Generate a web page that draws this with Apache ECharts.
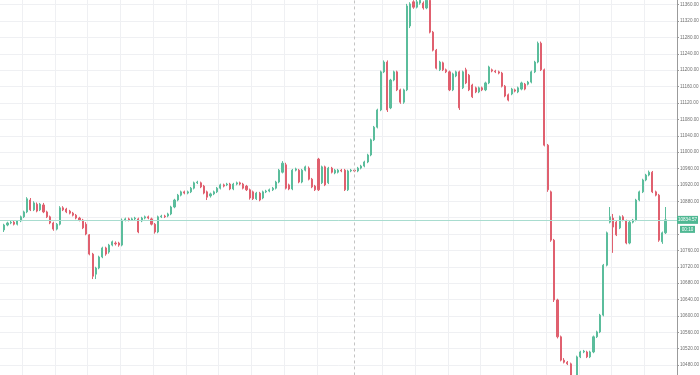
<!DOCTYPE html>
<html><head><meta charset="utf-8">
<script src="https://cdn.jsdelivr.net/npm/echarts@6/dist/echarts.min.js"></script>
<style>html,body{margin:0;padding:0;background:#fff}#c{width:700px;height:375px}</style>
</head><body><div id="c"></div>
<script>
const opens = [10810,10822,10827,10829,10824,10832,10842,10854,10883,10859,10873,10859,10871,10854,10842,10827,10812,10824,10864,10861,10856,10851,10846,10839,10834,10824,10798,10751,10702,10717,10744,10766,10756,10773,10778,10778,10773,10834,10837,10834,10837,10837,10832,10839,10842,10837,10824,10805,10842,10844,10844,10849,10866,10883,10895,10903,10900,10903,10912,10925,10925,10917,10903,10893,10898,10903,10912,10920,10920,10922,10910,10922,10925,10922,10917,10908,10903,10886,10900,10888,10903,10905,10908,10912,10927,10951,10969,10920,10910,10956,10956,10927,10956,10961,10934,10917,10983,10925,10964,10925,10961,10949,10951,10956,10956,10908,10954,10956,10954,10961,10966,10976,10993,11030,11061,11103,11196,11220,11108,11176,11196,11152,11122,11152,11308,11367,11354,11364,11364,11352,11371,11293,11249,11201,11218,11201,11196,11152,11186,11196,11157,11201,11188,11164,11157,11147,11157,11152,11169,11201,11198,11196,11193,11161,11140,11142,11152,11147,11154,11166,11166,11171,11196,11220,11266,11201,11017,10903,10785,10639,10549,10492,10487,10483,10448,10444,10500,10512,10512,10500,10512,10549,10561,10602,10724,10829,10839,10829,10815,10842,10832,10778,10829,10834,10883,10903,10932,10944,10951,10903,10895,10781,10803];
const closes = [10822,10827,10829,10824,10832,10842,10854,10886,10859,10876,10856,10873,10854,10842,10827,10812,10824,10864,10859,10854,10851,10846,10839,10834,10815,10800,10751,10697,10717,10744,10766,10751,10773,10781,10776,10773,10834,10837,10834,10837,10839,10805,10839,10842,10839,10824,10805,10842,10844,10842,10849,10866,10883,10895,10903,10900,10903,10912,10925,10927,10915,10900,10890,10898,10903,10912,10920,10917,10922,10910,10922,10925,10922,10912,10908,10888,10886,10900,10883,10903,10905,10908,10912,10927,10956,10973,10912,10910,10956,10959,10927,10956,10964,10934,10915,10908,10908,10964,10920,10961,10951,10956,10956,10954,10908,10954,10956,10954,10961,10966,10976,10993,11030,11061,11103,11196,11220,11103,11176,11196,11152,11122,11152,11357,11362,11354,11367,11371,11352,11371,11293,11249,11205,11220,11201,11196,11152,11191,11196,11108,11196,11169,11152,11135,11147,11157,11152,11169,11208,11198,11196,11193,11161,11137,11127,11154,11149,11157,11169,11154,11171,11196,11220,11266,11201,11017,10908,10785,10639,10549,10492,10487,10483,10448,10431,10500,10512,10514,10500,10512,10549,10561,10602,10724,10803,10842,10817,10798,10842,10834,10778,10829,10834,10883,10903,10932,10944,10951,10903,10895,10785,10803,10834.57];
const lows = [10805,10819,10824,10821,10821,10829,10839,10851,10856,10856,10853,10856,10851,10839,10824,10808,10809,10821,10856,10851,10848,10843,10836,10831,10812,10797,10748,10690,10690,10714,10741,10747,10752,10770,10772,10769,10770,10831,10831,10832,10834,10802,10829,10836,10836,10821,10801,10802,10839,10839,10841,10846,10863,10880,10892,10897,10897,10900,10909,10922,10912,10897,10883,10889,10895,10900,10909,10914,10917,10907,10907,10919,10919,10909,10905,10884,10883,10883,10880,10885,10900,10902,10905,10909,10924,10948,10909,10907,10907,10953,10924,10924,10953,10931,10912,10905,10905,10922,10917,10922,10948,10946,10948,10951,10905,10905,10951,10951,10951,10958,10963,10973,10990,11027,11058,11100,11193,11098,11105,11173,11149,11118,11118,11149,11303,11350,11351,11360,11348,11349,11290,11246,11202,11198,11198,11193,11149,11149,11183,11103,11154,11166,11149,11132,11144,11144,11149,11149,11166,11195,11193,11190,11158,11134,11124,11139,11146,11144,11151,11151,11163,11168,11193,11217,11198,11014,10903,10781,10634,10545,10489,10484,10480,10440,10425,10438,10497,10509,10497,10497,10509,10546,10558,10599,10721,10826,10754,10795,10812,10831,10775,10775,10826,10831,10880,10900,10929,10941,10900,10892,10781,10776,10800];
const highs = [10825,10830,10832,10832,10834,10845,10857,10890,10888,10880,10877,10876,10876,10857,10845,10830,10827,10868,10868,10864,10859,10854,10849,10842,10837,10829,10800,10754,10720,10747,10769,10769,10776,10784,10782,10781,10838,10840,10840,10840,10842,10840,10842,10845,10845,10840,10827,10845,10847,10847,10852,10869,10886,10898,10906,10906,10906,10915,10928,10930,10928,10920,10906,10901,10906,10915,10923,10923,10925,10925,10925,10928,10928,10925,10920,10911,10906,10903,10903,10906,10908,10911,10915,10930,10959,10978,10974,10923,10959,10962,10959,10959,10967,10965,10937,10920,10986,10967,10967,10964,10964,10959,10959,10959,10959,10957,10959,10959,10964,10969,10979,10996,11033,11064,11106,11199,11224,11224,11179,11199,11199,11155,11155,11362,11366,11371,11372,11376,11368,11376,11376,11296,11252,11223,11221,11204,11199,11194,11199,11199,11199,11206,11191,11167,11160,11160,11160,11172,11211,11204,11201,11199,11196,11164,11143,11157,11155,11160,11172,11169,11174,11199,11223,11270,11270,11204,11020,10906,10788,10642,10552,10497,10490,10486,10452,10503,10515,10517,10515,10515,10552,10564,10605,10727,10806,10866,10849,10832,10845,10846,10835,10832,10837,10886,10906,10935,10947,10955,10954,10906,10898,10806,10866];

const lastPrice = 10834.57;
const countdown = '00:10';
const sessionBreakBar = 107;       // bar (0-based) where the dashed session line sits
const leadingEmpty = 1, trailingEmpty = 3;
const yTickMin = 10440, yTickMax = 11400, yTickStep = 40;
const hiddenTickLabels = [10840, 10800];

const upColor = '#5bbd9c', downColor = '#e0606f';
const labelColor = '#4fb893';
const fontFam = 'Liberation Sans, Arial, sans-serif';

const n = opens.length;
const categories = [];
for (let i = 0; i < leadingEmpty + n + trailingEmpty; i++) categories.push(String(i));
const candleData = [];
for (let i = 0; i < leadingEmpty; i++) candleData.push(['-', '-', '-', '-']);
for (let i = 0; i < n; i++) candleData.push([opens[i], closes[i], lows[i], highs[i]]);
for (let i = 0; i < trailingEmpty; i++) candleData.push(['-', '-', '-', '-']);

const chart = echarts.init(document.getElementById('c'), null, {renderer: 'canvas'});
chart.setOption({
  animation: false,
  backgroundColor: '#ffffff',
  textStyle: {fontFamily: fontFam},
  grid: {left: -0.7, right: 23, top: -11.67, bottom: -6.45, containLabel: false, outerBoundsMode: 'none'},
  xAxis: {
    type: 'category', data: categories, boundaryGap: true,
    axisLine: {show: false}, axisTick: {show: false}, axisLabel: {show: false},
    splitLine: {show: true, interval: (idx) => idx % 10 === 7 && idx !== 107,
      lineStyle: {color: '#eff0f3', width: 1}}
  },
  yAxis: {
    type: 'value', position: 'right', min: yTickMin, max: yTickMax, interval: yTickStep,
    axisLine: {show: true, lineStyle: {color: '#9b9b9b', width: 1}},
    axisTick: {show: true, length: 2, lineStyle: {color: '#9b9b9b'}},
    axisLabel: {margin: 3, fontSize: 4.6, color: '#707070', fontFamily: fontFam,
      formatter: (v) => hiddenTickLabels.includes(v) ? '' : v.toFixed(2)},
    splitLine: {show: true, lineStyle: {color: '#eff0f3', width: 1}}
  },
  series: [{
    type: 'candlestick',
    data: candleData,
    barWidth: 1.6,
    itemStyle: {color: upColor, color0: downColor, borderColor: upColor, borderColor0: downColor, borderWidth: 1},
    markLine: {
      silent: true, symbol: ['none', 'none'], animation: false,
      data: [
        {yAxis: lastPrice,
         lineStyle: {color: '#a8dccf', type: 'solid', width: 1},
         label: {show: true, position: 'end', distance: 0,
           formatter: '{a|' + lastPrice.toFixed(2) + '}\n{b|' + countdown + '}',
           padding: [9, 0, 0, 0],
           rich: {
             a: {color: '#fff', backgroundColor: labelColor, fontSize: 4.6, fontFamily: fontFam, width: 21, height: 8, lineHeight: 10, align: 'center'},
             b: {color: '#fff', backgroundColor: labelColor, fontSize: 4.6, fontFamily: fontFam, width: 15, height: 7, lineHeight: 9, align: 'center'}
           }}},
        {xAxis: categories[leadingEmpty + sessionBreakBar],
         lineStyle: {color: '#c4c4c4', type: [3, 3], width: 1},
         label: {show: false}}
      ]
    }
  }]
});
</script></body></html>
